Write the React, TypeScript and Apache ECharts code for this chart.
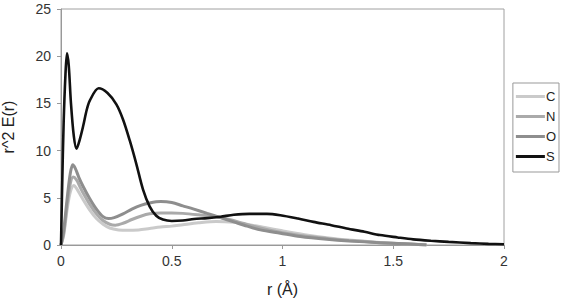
import React, { useEffect, useRef } from "react";
import * as echarts from "echarts";

const seriesNames = ["C", "N", "O", "S"];

const cX = [0, 0.012, 0.028, 0.042, 0.058, 0.07, 0.085, 0.1, 0.13, 0.16, 0.19, 0.22, 0.26, 0.3, 0.35, 0.4, 0.45, 0.5, 0.55, 0.62, 0.7, 0.78, 0.85, 0.92, 1.0, 1.1, 1.2, 1.3, 1.44, 1.55, 1.65];
const cY = [0, 1.0, 3.8, 5.6, 6.3, 6.0, 5.4, 4.8, 3.7, 2.8, 2.2, 1.8, 1.6, 1.55, 1.6, 1.75, 1.9, 2.0, 2.15, 2.35, 2.5, 2.4, 2.15, 1.85, 1.5, 1.1, 0.78, 0.52, 0.27, 0.12, 0.0];

const nX = [0, 0.012, 0.028, 0.042, 0.055, 0.07, 0.085, 0.1, 0.13, 0.16, 0.19, 0.22, 0.245, 0.28, 0.32, 0.36, 0.4, 0.45, 0.5, 0.55, 0.62, 0.7, 0.76, 0.82, 0.9, 1.0, 1.1, 1.2, 1.3, 1.44, 1.55, 1.65];
const nY = [0, 1.2, 4.3, 6.5, 7.2, 6.9, 6.2, 5.5, 4.3, 3.3, 2.6, 2.2, 2.1, 2.3, 2.7, 3.05, 3.3, 3.4, 3.4, 3.35, 3.2, 3.0, 2.7, 2.3, 1.8, 1.3, 0.95, 0.7, 0.48, 0.25, 0.12, 0.0];

const oX = [0, 0.012, 0.028, 0.042, 0.053, 0.065, 0.08, 0.1, 0.13, 0.16, 0.19, 0.215, 0.24, 0.28, 0.32, 0.36, 0.4, 0.45, 0.5, 0.55, 0.6, 0.66, 0.72, 0.78, 0.84, 0.9, 0.99, 1.08, 1.2, 1.3, 1.44, 1.55, 1.65];
const oY = [0, 1.5, 5.0, 7.6, 8.5, 8.1, 7.2, 6.2, 4.9, 3.8, 3.0, 2.8, 2.9, 3.3, 3.8, 4.2, 4.45, 4.6, 4.5, 4.15, 3.8, 3.35, 2.9, 2.45, 2.0, 1.6, 1.25, 0.9, 0.6, 0.42, 0.25, 0.12, 0.0];

const sX = [0, 0.005, 0.012, 0.02, 0.027, 0.035, 0.045, 0.058, 0.07, 0.085, 0.1, 0.116, 0.13, 0.17, 0.21, 0.25, 0.28, 0.31, 0.34, 0.37, 0.4, 0.43, 0.46, 0.5, 0.55, 0.6, 0.66, 0.72, 0.78, 0.85, 0.93, 0.99, 1.07, 1.14, 1.22, 1.29, 1.37, 1.44, 1.52, 1.59, 1.67, 1.75, 1.85, 1.93, 2.0];
const sY = [0, 6, 13, 18, 20.3, 19, 15, 11.5, 10.2, 11.2, 12.6, 14.3, 15.3, 16.6, 16.1, 14.9, 13.3, 11.1, 8.6, 5.9, 4.1, 3.1, 2.7, 2.55, 2.6, 2.75, 2.85, 3.0, 3.2, 3.3, 3.3, 3.15, 2.8, 2.45, 2.1, 1.75, 1.4, 1.05, 0.8, 0.6, 0.45, 0.33, 0.2, 0.12, 0.08];

const xTicks = ["0", "0.5", "1", "1.5", "2"];
const yTicks = ["0", "5", "10", "15", "20", "25"];

const colors = ["#cacaca", "#aaaaaa", "#8e8e8e", "#111111"];
const widths = [3, 3, 3, 2.6];

function pairs(xs: number[], ys: number[]) {
  return xs.map((x, i) => [x, ys[i]]);
}

export default function App() {
  const ref = useRef<HTMLDivElement>(null);
  useEffect(() => {
    if (!ref.current) return;
    const chart = echarts.init(ref.current, undefined, { renderer: "svg" });
    const allData = [pairs(cX, cY), pairs(nX, nY), pairs(oX, oY), pairs(sX, sY)];
    const font = "Liberation Sans, Arial, sans-serif";
    chart.setOption({
      animation: false,
      textStyle: { fontFamily: font },
      grid: {
        left: 61,
        right: 58,
        top: 9,
        bottom: 59,
        show: true,
        borderColor: "#a0a0a0",
        borderWidth: 1,
        containLabel: false,
        outerBoundsMode: "none",
      },
      legend: {
        orient: "vertical",
        right: 3,
        top: 83,
        data: seriesNames.map((n, i) => ({
          name: n,
          icon: "rect",
          itemStyle: { color: colors[i] },
        })),
        borderColor: "#999",
        borderWidth: 1,
        padding: [7, 3, 9, 3],
        itemWidth: 29,
        itemHeight: 3,
        itemGap: 7,
        textStyle: { fontSize: 13, color: "#222", fontFamily: font, padding: [0, 0, 0, -4] },
      },
      xAxis: {
        type: "value",
        min: 0,
        max: 2,
        interval: 0.5,
        name: "r (Å)",
        nameLocation: "middle",
        nameGap: 36,
        nameTextStyle: { fontSize: 16, color: "#222", fontFamily: font },
        axisLine: { show: true, lineStyle: { color: "#999", width: 1 } },
        axisTick: { show: true, length: 4, lineStyle: { color: "#999" } },
        axisLabel: {
          fontSize: 14,
          color: "#333",
          margin: 9,
          formatter: (v: number) => xTicks[Math.round(v / 0.5)] ?? String(v),
        },
        splitLine: { show: false },
      },
      yAxis: {
        type: "value",
        min: 0,
        max: 25,
        interval: 5,
        name: "r^2 E(r)",
        nameLocation: "middle",
        nameGap: 45,
        nameRotate: 90,
        nameTextStyle: { fontSize: 16, color: "#222", fontFamily: font },
        axisLine: { show: true, lineStyle: { color: "#999", width: 1 } },
        axisTick: { show: true, length: 4, lineStyle: { color: "#999" } },
        axisLabel: {
          fontSize: 14,
          color: "#333",
          margin: 10,
          formatter: (v: number) => yTicks[Math.round(v / 5)] ?? String(v),
        },
        splitLine: { show: false },
      },
      series: seriesNames.map((name, i) => ({
        name,
        type: "line",
        data: allData[i],
        smooth: 0.3,
        symbol: "none",
        showSymbol: false,
        z: i + 2,
        lineStyle: { color: colors[i], width: widths[i] },
        itemStyle: { color: colors[i] },
      })),
    });
    return () => chart.dispose();
  }, []);
  return <div ref={ref} style={{ width: 562, height: 304, position: "absolute", left: 0, top: 0 }} />;
}
